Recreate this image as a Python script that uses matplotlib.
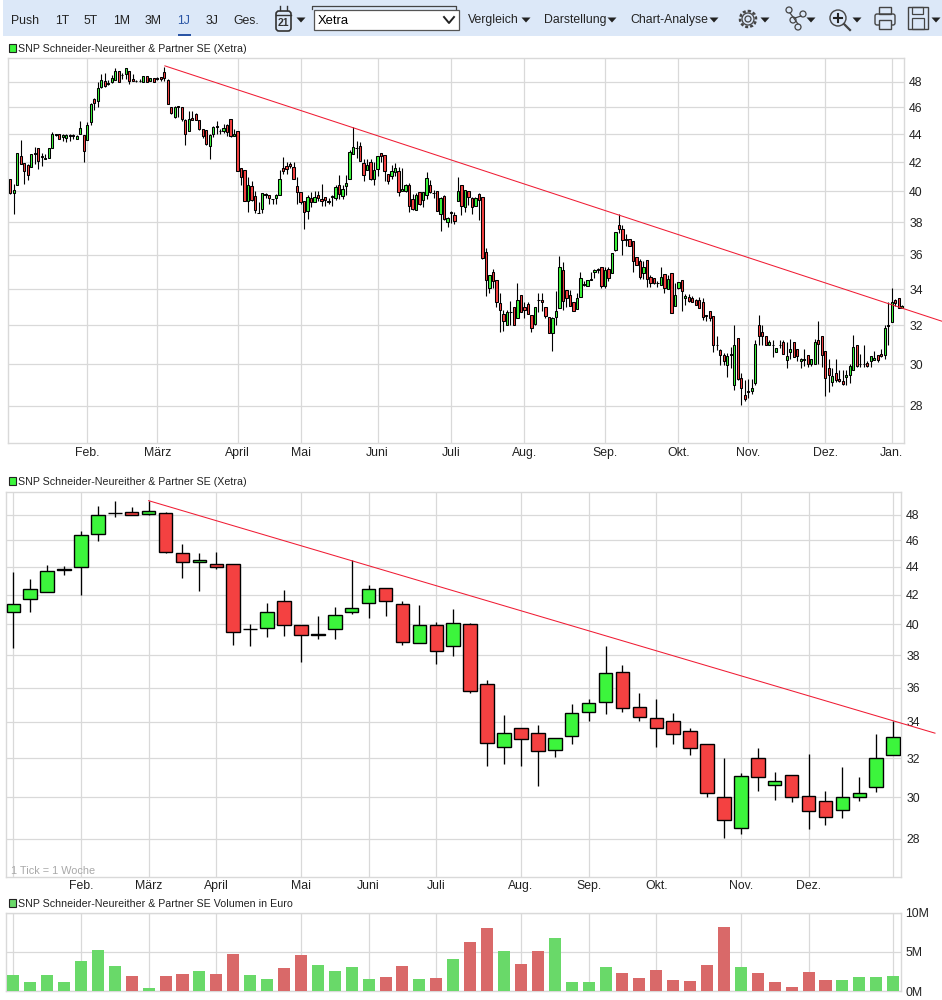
import matplotlib
matplotlib.use("Agg")
import matplotlib.pyplot as plt
from matplotlib.patches import Circle, Polygon, Rectangle, FancyBboxPatch
from matplotlib.ticker import NullFormatter, NullLocator

plt.rcParams["font.family"] = ["Liberation Sans", "DejaVu Sans"]

WIDTH = 942
HEIGHT = 1000

GREEN = "#3cf53c"
RED = "#f44141"
VOL_GREEN = "#69d969"
VOL_RED = "#d96969"
GRID = "#d9d9d9"
TREND = "#f01c34"
TEXT = "#222222"

TITLE = "SNP Schneider-Neureither & Partner SE (Xetra)"
TITLE_VOL = "SNP Schneider-Neureither & Partner SE Volumen in Euro"

# daily candles: body top, body bottom, wick high, wick low, colour flag
daily_top = [
    40.83, 40.07, 42.65, 42.4, 41.93, 41.77, 42.57, 42.65, 43.0, 42.4,
    42.26, 43.0, 44.0, 43.98, 44.0, 43.93, 43.93, 43.93, 43.93, 43.85,
    44.45, 43.93, 44.67, 46.23, 46.62, 47.48, 48.18, 48.1, 47.95, 48.34,
    48.88, 48.88, 48.58, 49.12, 48.88, 48.26, 48.08, 48.1, 48.5, 48.5,
    48.3, 48.3, 48.28, 48.4, 48.8, 48.18, 46.0, 46.0, 46.15, 46.0,
    45.05, 45.1, 45.2, 45.5, 45.05, 44.37, 44.3, 43.93, 44.52, 44.58,
    44.25, 44.45, 44.67, 45.1, 44.0, 44.22, 41.6, 41.45, 40.4, 40.35,
    39.68, 38.6, 39.87, 39.8, 39.75, 39.5, 39.75, 40.83, 41.6, 41.73,
    41.87, 41.65, 40.35, 39.93, 39.35, 39.6, 39.55, 39.6, 39.75, 39.5,
    39.62, 39.36, 39.67, 40.32, 40.4, 40.13, 40.57, 42.71, 43.07, 43.02,
    43.15, 41.93, 41.8, 42.0, 41.45, 42.43, 42.64, 42.5, 41.17, 41.38,
    41.6, 41.38, 40.13, 40.4, 40.45, 39.5, 39.75, 39.93, 39.93, 40.9,
    40.43, 39.9, 40.0, 39.55, 39.67, 38.28, 38.64, 38.47, 40.0, 40.45,
    40.07, 40.0, 39.55, 39.55, 39.8, 39.62, 36.17, 34.8, 35.0, 34.53,
    33.2, 32.6, 32.7, 32.74, 33.02, 33.4, 33.67, 33.0, 33.15, 32.55,
    33.0, 33.4, 33.4, 33.0, 32.45, 32.4, 32.8, 35.3, 35.1, 33.95,
    33.67, 33.25, 33.5, 34.65, 34.27, 34.5, 34.55, 35.1, 35.15, 35.3,
    35.1, 35.15, 36.12, 37.38, 37.83, 37.57, 36.95, 36.95, 36.82, 35.88,
    35.63, 35.3, 35.7, 34.7, 34.65, 34.35, 34.7, 34.88, 34.6, 34.95,
    33.67, 34.42, 34.53, 33.62, 33.57, 33.5, 33.4, 33.4, 33.3, 32.54,
    32.8, 32.49, 31.0, 30.73, 30.47, 30.4, 30.5, 31.0, 31.36, 29.3,
    28.5, 28.68, 28.84, 31.05, 32.0, 31.63, 31.42, 31.15, 31.0, 30.83,
    31.0, 31.15, 30.4, 30.78, 31.15, 30.78, 30.25, 30.25, 30.47, 30.25,
    31.15, 31.25, 31.42, 30.68, 29.8, 29.4, 29.55, 29.27, 29.17, 29.45,
    29.93, 30.85, 31.0, 30.03, 30.03, 30.08, 30.4, 30.3, 30.47, 30.5,
    31.85, 32.0, 33.25, 33.4, 33.5, 33.03,
]
daily_bot = [
    39.9, 39.9, 40.4, 41.9, 41.35, 41.08, 41.63, 42.6, 42.07, 42.35,
    42.2, 42.26, 43.0, 43.95, 43.65, 43.78, 43.75, 43.9, 43.9, 43.68,
    44.0, 42.82, 43.57, 44.9, 46.36, 46.47, 47.56, 47.64, 47.8, 48.03,
    48.18, 48.03, 48.55, 48.65, 48.1, 48.1, 48.05, 48.07, 48.03, 48.03,
    48.1, 48.03, 48.25, 48.26, 48.34, 46.23, 45.55, 45.27, 46.0, 45.1,
    44.0, 44.2, 45.05, 45.05, 44.37, 43.85, 43.28, 43.13, 44.0, 44.55,
    44.22, 44.22, 44.15, 43.85, 43.85, 41.38, 40.97, 39.35, 39.35, 39.43,
    38.78, 38.57, 38.83, 39.77, 39.55, 39.47, 39.55, 39.75, 41.38, 41.52,
    41.7, 40.83, 39.93, 39.3, 38.65, 38.7, 39.3, 39.3, 39.55, 39.38,
    39.42, 39.33, 39.64, 39.55, 39.8, 39.68, 40.38, 40.83, 42.57, 42.99,
    42.07, 41.1, 41.45, 40.83, 40.83, 41.52, 42.43, 41.38, 40.67, 41.03,
    41.3, 39.93, 40.0, 40.0, 39.02, 38.85, 38.8, 39.15, 39.43, 39.75,
    39.93, 39.87, 38.7, 38.53, 38.2, 38.02, 38.61, 38.08, 39.36, 39.02,
    38.98, 39.62, 38.98, 39.02, 39.43, 35.83, 34.53, 34.05, 34.47, 33.3,
    32.85, 32.23, 32.0, 32.71, 32.0, 32.4, 32.7, 32.85, 32.6, 31.85,
    32.07, 33.37, 33.25, 32.5, 31.6, 31.6, 32.45, 32.97, 33.35, 33.5,
    33.07, 32.8, 32.87, 33.57, 34.24, 34.2, 34.52, 35.0, 35.12, 34.2,
    34.15, 34.65, 34.93, 36.3, 37.57, 36.88, 36.92, 36.5, 35.6, 35.4,
    34.7, 34.9, 34.6, 34.35, 34.35, 34.32, 34.23, 34.05, 34.0, 32.65,
    33.03, 34.05, 33.9, 33.5, 33.35, 33.3, 33.13, 32.92, 32.43, 32.51,
    32.38, 31.0, 30.97, 30.45, 30.18, 29.97, 30.47, 28.98, 29.27, 28.84,
    28.32, 28.65, 28.7, 29.07, 31.42, 31.47, 31.0, 31.0, 30.97, 30.62,
    30.97, 30.5, 30.2, 30.62, 30.35, 30.4, 30.15, 30.22, 30.03, 30.03,
    30.0, 31.05, 30.47, 29.32, 29.45, 29.12, 29.22, 29.17, 29.03, 29.37,
    29.45, 29.73, 29.93, 30.0, 30.0, 29.93, 30.15, 30.2, 30.2, 30.4,
    30.47, 31.97, 32.17, 33.2, 32.97, 32.92,
]
daily_high = [
    40.83, 40.5, 42.65, 43.6, 41.93, 41.85, 42.57, 43.05, 43.0, 42.65,
    42.55, 43.0, 44.15, 44.0, 44.0, 44.0, 44.0, 44.0, 44.0, 43.93,
    44.99, 43.93, 44.9, 46.38, 46.7, 48.03, 48.62, 48.72, 48.16, 48.57,
    49.12, 48.88, 48.72, 49.12, 48.88, 48.67, 48.16, 48.2, 48.5, 48.5,
    48.33, 48.3, 48.36, 48.4, 49.2, 48.2, 46.0, 46.13, 46.15, 46.0,
    45.1, 45.7, 45.7, 45.6, 45.05, 44.37, 44.3, 44.0, 44.6, 45.0,
    44.37, 44.75, 44.75, 45.1, 44.37, 44.22, 41.6, 41.45, 41.0, 40.7,
    40.05, 39.33, 39.87, 39.87, 39.75, 39.5, 39.8, 41.45, 42.35, 42.0,
    42.0, 42.0, 41.0, 39.93, 39.35, 39.75, 39.93, 40.0, 40.0, 40.53,
    39.62, 39.55, 39.75, 40.4, 41.1, 40.4, 41.1, 42.85, 44.5, 43.5,
    43.45, 42.2, 42.2, 42.2, 42.0, 42.43, 42.64, 42.5, 41.17, 41.8,
    41.93, 41.65, 41.6, 40.5, 40.55, 39.8, 39.87, 39.93, 39.93, 41.3,
    40.78, 40.07, 40.0, 39.62, 39.75, 38.34, 38.7, 38.66, 40.96, 40.45,
    40.07, 40.0, 39.62, 39.62, 39.87, 39.62, 36.4, 34.8, 35.15, 34.53,
    33.8, 32.85, 32.85, 33.35, 33.02, 34.35, 33.67, 33.25, 33.25, 32.55,
    33.0, 33.78, 33.78, 33.0, 32.45, 32.45, 33.9, 35.9, 35.55, 33.95,
    33.95, 33.25, 33.78, 35.0, 34.45, 34.5, 35.0, 35.15, 35.2, 35.3,
    35.3, 35.3, 36.12, 37.38, 38.55, 37.83, 37.27, 36.95, 36.82, 35.88,
    35.75, 35.65, 35.7, 34.8, 34.65, 34.47, 35.3, 34.88, 34.8, 34.95,
    34.35, 34.42, 34.53, 33.73, 33.73, 33.62, 33.46, 33.57, 33.5, 32.54,
    32.8, 32.49, 31.43, 30.78, 30.57, 30.57, 30.87, 32.0, 31.36, 29.55,
    29.22, 29.27, 29.27, 31.25, 32.56, 32.0, 31.42, 31.25, 31.25, 30.83,
    31.25, 31.25, 31.15, 31.3, 31.15, 30.78, 30.3, 30.78, 30.47, 30.25,
    31.3, 32.22, 31.42, 30.68, 30.25, 29.8, 30.25, 29.7, 29.7, 29.7,
    30.03, 31.52, 31.0, 30.5, 31.0, 30.18, 30.4, 30.68, 30.47, 30.78,
    32.0, 33.3, 34.05, 33.46, 33.5, 33.13,
]
daily_low = [
    39.8, 38.5, 40.4, 41.85, 40.5, 40.8, 41.63, 41.9, 41.55, 41.7,
    42.2, 42.26, 42.98, 43.85, 43.65, 43.5, 43.43, 43.5, 43.65, 43.65,
    44.0, 41.98, 43.57, 44.65, 45.78, 46.0, 47.53, 47.56, 47.74, 47.95,
    48.18, 48.03, 48.2, 48.2, 47.85, 48.08, 48.0, 48.0, 48.03, 48.03,
    48.05, 48.03, 48.15, 48.1, 48.1, 46.23, 45.5, 45.22, 45.27, 45.0,
    43.2, 44.2, 45.05, 45.05, 44.3, 43.7, 43.25, 42.25, 43.78, 44.0,
    44.0, 44.1, 43.85, 43.83, 43.85, 41.38, 40.4, 39.35, 38.65, 39.35,
    38.58, 38.57, 38.58, 39.55, 39.2, 39.15, 39.2, 39.75, 41.15, 41.17,
    41.6, 40.83, 39.2, 39.15, 37.55, 38.2, 39.0, 39.3, 39.4, 39.05,
    39.02, 39.15, 39.02, 39.43, 39.48, 39.48, 39.75, 40.83, 42.57, 42.3,
    42.07, 40.67, 41.45, 40.8, 40.4, 41.03, 42.0, 40.73, 40.53, 40.83,
    41.03, 39.67, 40.0, 39.93, 38.63, 38.77, 38.77, 39.1, 38.97, 39.5,
    39.87, 39.55, 38.7, 37.45, 38.15, 37.7, 37.98, 37.9, 39.36, 38.45,
    38.64, 39.08, 38.5, 39.02, 38.13, 35.72, 33.6, 33.78, 34.05, 33.02,
    31.65, 31.7, 32.0, 32.0, 32.0, 32.4, 32.7, 32.4, 32.6, 31.65,
    32.0, 32.7, 32.8, 32.4, 31.6, 30.65, 32.0, 32.97, 32.85, 33.02,
    33.07, 32.8, 32.87, 33.57, 34.15, 34.2, 34.5, 34.63, 34.9, 34.05,
    34.05, 34.45, 34.93, 36.23, 37.33, 36.0, 36.55, 36.5, 35.0, 35.4,
    34.6, 34.6, 34.1, 34.1, 34.3, 34.1, 34.23, 33.75, 34.0, 32.65,
    33.03, 34.0, 32.8, 33.13, 33.3, 33.3, 33.13, 32.92, 32.27, 32.22,
    32.22, 30.6, 30.73, 29.97, 29.97, 29.37, 29.83, 28.75, 29.22, 28.03,
    28.22, 28.36, 28.55, 28.98, 31.0, 31.0, 31.0, 31.0, 30.35, 30.62,
    30.83, 30.5, 29.8, 30.25, 30.35, 30.15, 29.8, 29.93, 29.85, 29.93,
    30.0, 30.0, 29.85, 28.46, 28.63, 28.93, 29.12, 29.12, 28.98, 28.98,
    29.07, 29.7, 29.88, 29.88, 29.88, 29.88, 29.88, 30.2, 30.1, 30.35,
    30.25, 31.0, 32.17, 33.03, 32.92, 32.92,
]
# g = up, r = down, f = flat (drawn as black dash)
daily_dir = (
    "rggrrrgfrr" "fggfrggffg" "grggrggrgg" "grfgrrffgr" "grfrrrrgrr"
    "rgrrrrrggf" "fgrrgrrrgr" "rfgfrfggrr" "rrrrrgrgrr" "rffgrggggf"
    "rrgrggrrrg" "grggrrgrgg" "rfrgrgfrgr" "grrgrrrgrr" "rrgfrgrrrr"
    "gfrrrgggrr" "rrggfgfgfr" "grggrrfrrr" "rgrrrfgrgr" "ggrgrrrrrf"
    "rrfrrgfgrr" "rfggrrrgfg" "frggrrgfrg" "grrrrgrrrg" "ggrffrggrr"
    "gfgrrg"
)

# weekly candles
weekly_top = [
    41.38, 42.43, 43.71, 43.85, 46.38, 48.0, 48.13, 48.23, 48.3, 48.15,
    45.04, 44.52, 44.22, 44.22, 39.7, 40.83, 41.58, 39.94, 39.33, 40.62,
    41.1, 42.43, 42.5, 41.38, 39.94, 39.94, 40.07, 40.0, 36.2, 33.4,
    33.68, 33.4, 33.08, 34.5, 35.1, 36.9, 36.95, 34.85, 34.2, 34.05,
    33.5, 32.8, 30.0, 31.05, 32.0, 30.8, 31.15, 30.05, 29.8, 30.0,
    30.2, 32.0, 33.14,
]
weekly_bot = [
    40.83, 41.72, 42.2, 43.8, 44.0, 46.46, 48.1, 48.0, 48.08, 45.11,
    44.37, 44.37, 44.0, 39.48, 39.67, 39.74, 39.94, 39.29, 39.3, 39.68,
    40.83, 41.45, 41.58, 38.85, 38.77, 38.26, 38.58, 35.8, 32.85, 32.6,
    33.03, 32.38, 32.43, 33.24, 34.57, 35.17, 34.77, 34.28, 33.66, 33.35,
    32.54, 30.2, 28.86, 28.5, 31.0, 30.63, 30.0, 29.33, 29.03, 29.38,
    30.0, 30.5, 32.16,
]
weekly_high = [
    43.6, 43.1, 44.17, 44.1, 46.72, 48.72, 49.1, 48.64, 49.1, 48.23,
    45.73, 45.0, 45.14, 44.22, 40.0, 41.47, 42.36, 39.94, 40.57, 41.13,
    44.5, 42.67, 42.5, 41.6, 41.33, 40.13, 41.06, 40.05, 36.45, 34.38,
    33.68, 33.8, 33.08, 35.0, 35.3, 38.55, 37.35, 35.7, 35.3, 34.53,
    33.64, 32.8, 32.0, 31.25, 32.55, 31.3, 31.15, 32.23, 30.33, 31.55,
    31.0, 33.3, 34.03,
]
weekly_low = [
    38.47, 40.85, 42.2, 43.4, 42.0, 45.98, 47.82, 48.0, 48.0, 45.0,
    43.2, 42.26, 43.83, 38.62, 38.56, 39.14, 39.2, 37.54, 39.0, 39.0,
    40.67, 40.4, 40.53, 38.62, 38.77, 37.42, 37.92, 35.7, 31.6, 31.7,
    31.6, 30.56, 32.09, 32.8, 34.03, 34.45, 34.55, 34.08, 32.63, 32.8,
    32.2, 30.0, 28.03, 28.2, 30.33, 29.84, 29.78, 28.46, 28.65, 28.98,
    29.8, 30.25, 32.16,
]
weekly_dir = "gggfggfrgr" "rgrrfgrrfg" "ggrrgrgrrg" "rrggggrrrr" "rrrgrgrrrg" "ggg"

# weekly volume in million euro
volume = [
    2.08, 1.2, 2.08, 1.2, 3.85, 5.25, 3.2, 1.95, 0.42, 1.95,
    2.2, 2.6, 2.2, 4.75, 2.08, 1.57, 2.97, 4.62, 3.35, 2.6,
    3.1, 1.57, 1.82, 3.2, 1.57, 1.7, 4.1, 6.27, 8.05, 5.13,
    3.47, 5.13, 6.78, 1.2, 1.2, 3.1, 2.33, 1.7, 2.7, 1.44,
    1.31, 3.35, 8.18, 3.1, 2.33, 1.2, 0.55, 2.46, 1.44, 1.44,
    1.82, 1.82, 1.95,
]
volume_dir = "gggggggrgr" "rgrrggrrgg" "ggrrgrgrrg" "rrggggrrrr" "rrrgrrrrrg" "ggg"

price_ticks = [28, 30, 32, 34, 36, 38, 40, 42, 44, 46, 48]
volume_ticks = [0, 5, 10]
volume_labels = ["0M", "5M", "10M"]

daily_month_pos = [22, 42, 65, 83, 105, 126, 147, 170, 191, 211, 233, 252]
daily_months = ["Feb.", "März", "April", "Mai", "Juni", "Juli", "Aug.", "Sep.", "Okt.", "Nov.", "Dez.", "Jan."]
weekly_month_pos = [0, 4, 8, 12, 17, 21, 25, 30, 34, 38, 43, 47, 52]
weekly_months = ["", "Feb.", "März", "April", "Mai", "Juni", "Juli", "Aug.", "Sep.", "Okt.", "Nov.", "Dez.", ""]

daily_trend_x = [44.2, 266.3]
daily_trend_y = [49.3, 32.23]
weekly_trend_x = [8, 54.47]
weekly_trend_y = [49.13, 33.37]

toolbar_items = [("Push", 25.5), ("1T", 62), ("5T", 91), ("1M", 121.5), ("3M", 153.5),
                 ("1J", 184), ("3J", 212), ("Ges.", 246)]
menu_items = [("Vergleich", 468, 526), ("Darstellung", 544, 612), ("Chart-Analyse", 630, 714)]


def panel_axes(fig, left, top, right, bottom):
    ax = fig.add_axes([left / WIDTH, 1 - bottom / HEIGHT, (right - left) / WIDTH, (bottom - top) / HEIGHT])
    for side in ax.spines.values():
        side.set_color(GRID)
        side.set_linewidth(1.0)
    ax.grid(True, color=GRID, linewidth=0.9)
    ax.set_axisbelow(True)
    ax.yaxis.tick_right()
    ax.tick_params(axis="both", length=0, labelsize=8.8, labelcolor=TEXT)
    return ax


def draw_candles(ax, top, bot, high, low, flags, width, edge, wick):
    xs = list(range(len(top)))
    ax.vlines(xs, low, high, color="black", linewidth=wick, zorder=2)
    colors = [GREEN if f == "g" else RED if f == "r" else "black" for f in flags]
    heights = [t - b for t, b in zip(top, bot)]
    ax.bar(xs, heights, bottom=bot, width=width, color=colors, edgecolor="black", linewidth=edge, zorder=3)


def price_panel(ax, x_pos, x_labels, y_lim, x_lim):
    ax.set_yscale("log")
    ax.set_ylim(*y_lim)
    ax.set_xlim(*x_lim)
    ax.set_yticks(price_ticks)
    ax.set_yticklabels([str(t) for t in price_ticks])
    ax.yaxis.set_minor_locator(NullLocator())
    ax.yaxis.set_minor_formatter(NullFormatter())
    ax.set_xticks(x_pos)
    ax.set_xticklabels(x_labels)
    ax.tick_params(axis="x", pad=2.5)
    ax.tick_params(axis="y", pad=3.5)


def triangle(ax, x, y=20, w=9, h=5):
    ax.add_patch(Polygon([(x - w / 2, y - h / 2), (x + w / 2, y - h / 2), (x, y + h / 2)], color="#222222", lw=0))


def draw_toolbar(ax):
    ax.add_patch(Rectangle((3, 0), WIDTH - 3, 36, color="#dce8f8", lw=0))
    for label, x in toolbar_items:
        col = "#2a55a5" if label == "1J" else TEXT
        ax.text(x, 20.5, label, ha="center", va="center", fontsize=8.8, color=col)
    ax.add_patch(Rectangle((178, 34), 13, 2, color="#2a55a5", lw=0))

    # calendar icon
    ax.add_patch(FancyBboxPatch((276, 11), 15, 20, boxstyle="round,pad=0,rounding_size=3", fc="none", ec="#333333", lw=1.2))
    ax.plot([276, 291], [15, 15], color="#333333", lw=1)
    ax.plot([280, 280], [6, 10], color="#333333", lw=1)
    ax.plot([287, 287], [6, 10], color="#333333", lw=1)
    ax.text(283.5, 23.5, "21", ha="center", va="center", fontsize=7.5, fontweight="bold", color="#333333")
    triangle(ax, 301)

    # exchange dropdown
    ax.plot([312, 312, 456, 456], [9, 5.5, 5.5, 9], color="#444444", lw=0.9)
    ax.add_patch(Rectangle((314, 10), 145, 19.5, fc="white", ec="#555555", lw=0.9))
    ax.text(318, 20.5, "Xetra", ha="left", va="center", fontsize=9.4, color="black")
    ax.plot([444, 449, 454], [17, 23, 17], color="#222222", lw=1.4)

    for label, x, tri in menu_items:
        ax.text(x, 20.5, label, ha="left", va="center", fontsize=8.8, color=TEXT)
        triangle(ax, tri)

    # gear icon
    ax.add_patch(Circle((748, 19), 8, fc="none", ec="#444444", lw=1.8, ls=(0, (1.2, 0.8))))
    ax.add_patch(Circle((748, 19), 6, fc="none", ec="#444444", lw=0.9))
    ax.add_patch(Circle((748, 19), 3, fc="none", ec="#444444", lw=0.9))
    triangle(ax, 765)

    # network icon
    for cx, cy in [(789, 10), (803, 14), (793, 20), (798, 27)]:
        ax.add_patch(Circle((cx, cy), 3, fc="none", ec="#444444", lw=0.9))
    ax.plot([790, 793, 798], [13, 17, 24], color="#444444", lw=0.9)
    ax.plot([795, 801], [18, 16], color="#444444", lw=0.9)
    triangle(ax, 811)

    # zoom icon
    ax.add_patch(Circle((838, 18), 8, fc="none", ec="#444444", lw=1))
    ax.plot([844, 850], [24, 30], color="#444444", lw=1.6)
    ax.plot([834, 842], [18, 18], color="#222222", lw=1.5)
    ax.plot([838, 838], [14, 22], color="#222222", lw=1.5)
    triangle(ax, 857)

    # printer icon
    ax.add_patch(FancyBboxPatch((875, 14), 20, 11, boxstyle="round,pad=0,rounding_size=2", fc="none", ec="#444444", lw=1))
    ax.add_patch(Rectangle((879, 7), 12, 7, fc="none", ec="#444444", lw=1))
    ax.add_patch(Rectangle((879, 20), 12, 9, fc="#dce8f8", ec="#444444", lw=1))

    # floppy icon
    ax.add_patch(Rectangle((908, 7), 20, 22, fc="none", ec="#444444", lw=1))
    ax.add_patch(Rectangle((912, 7), 11, 7, fc="none", ec="#444444", lw=0.9))
    ax.add_patch(Rectangle((912, 18), 12, 11, fc="none", ec="#444444", lw=0.9))
    triangle(ax, 936)


def legend_entry(ax, y, color, label):
    ax.add_patch(Rectangle((9, y - 4), 7, 8, fc=color, ec="#222222", lw=0.8))
    ax.text(18, y + 1, label, ha="left", va="center", fontsize=7.65, color=TEXT)


fig = plt.figure(figsize=(WIDTH / 100, HEIGHT / 100), dpi=100, facecolor="white")

# daily panel
ax_day = panel_axes(fig, 8.3, 58, 904.3, 443.3)
price_panel(ax_day, daily_month_pos, daily_months, (26.3, 49.95), (-0.57, 255.6))
draw_candles(ax_day, daily_top, daily_bot, daily_high, daily_low, daily_dir, 0.66, 0.75, 0.8)
ax_day.plot(daily_trend_x, daily_trend_y, color=TREND, linewidth=0.75, clip_on=False, zorder=4)

# weekly panel
ax_week = panel_axes(fig, 5.5, 491.7, 901.3, 876.7)
price_panel(ax_week, weekly_month_pos, weekly_months, (26.28, 49.87), (-0.46, 52.48))
draw_candles(ax_week, weekly_top, weekly_bot, weekly_high, weekly_low, weekly_dir, 0.8, 1.0, 0.95)
ax_week.plot(weekly_trend_x, weekly_trend_y, color=TREND, linewidth=0.75, clip_on=False, zorder=4)

# volume panel
ax_vol = panel_axes(fig, 5.5, 912.7, 901.3, 991.3)
ax_vol.set_xlim(-0.46, 52.48)
ax_vol.set_ylim(0, 10)
ax_vol.set_xticks(weekly_month_pos)
ax_vol.set_xticklabels([])
ax_vol.set_yticks(volume_ticks)
ax_vol.set_yticklabels(volume_labels)
ax_vol.tick_params(axis="y", pad=3)
ax_vol.bar(range(len(volume)), volume, width=0.71,
           color=[VOL_GREEN if f == "g" else VOL_RED for f in volume_dir], linewidth=0, zorder=3)

# everything around the panels, in pixel coordinates
ax_top = fig.add_axes([0, 0, 1, 1], zorder=5)
ax_top.set_xlim(0, WIDTH)
ax_top.set_ylim(HEIGHT, 0)
ax_top.axis("off")
ax_top.patch.set_alpha(0)
draw_toolbar(ax_top)
legend_entry(ax_top, 48, GREEN, TITLE)
legend_entry(ax_top, 481, GREEN, TITLE)
legend_entry(ax_top, 903, VOL_GREEN, TITLE_VOL)
ax_top.text(11, 870.5, "1 Tick = 1 Woche", ha="left", va="center", fontsize=7.8, color="#a8a8a8")

fig.savefig("out.png", dpi=100)
